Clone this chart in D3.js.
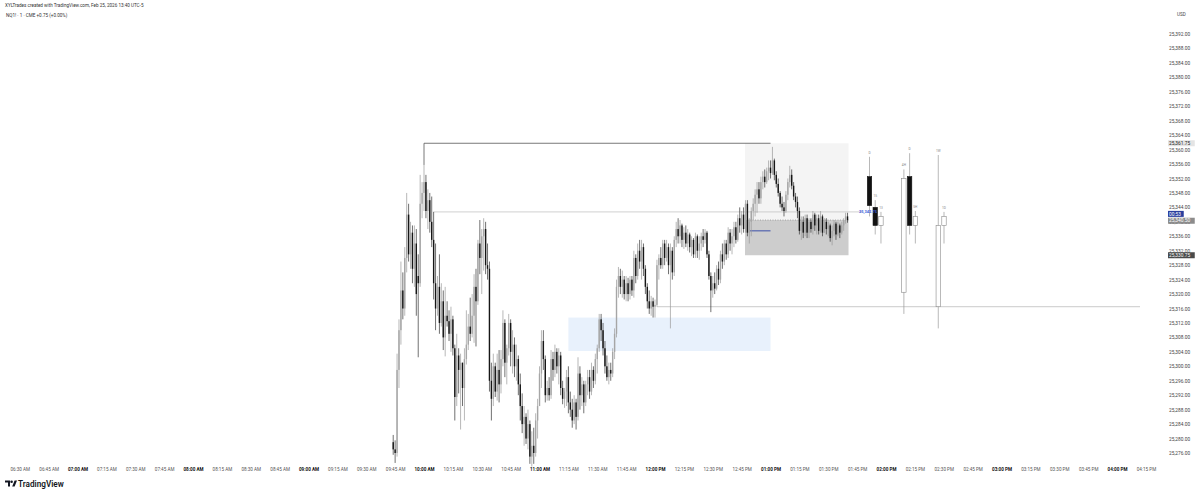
<!DOCTYPE html>
<html><head><meta charset="utf-8">
<script src="https://cdn.jsdelivr.net/npm/d3@7"></script>
<style>
body{margin:0;background:#fff;}
svg{display:block;font-family:Roboto,"Open Sans",Arial,sans-serif;}
</style>
</head><body>
<svg id="chart" width="1200" height="495"></svg>
<script>
// ---------------- DATA ----------------
const headerTitle = "XYLTrades created with TradingView.com, Feb 25, 2026 13:40 UTC-5";
const symbolLine = "NQ1! · 1 · CME";
const changeText = "+0.75 (+0.00%)";
const xTickLabels = ["06:30 AM","06:45 AM","07:00 AM","07:15 AM","07:30 AM","07:45 AM","08:00 AM","08:15 AM","08:30 AM","08:45 AM","09:00 AM","09:15 AM","09:30 AM","09:45 AM","10:00 AM","10:15 AM","10:30 AM","10:45 AM","11:00 AM","11:15 AM","11:30 AM","11:45 AM","12:00 PM","12:15 PM","12:30 PM","12:45 PM","01:00 PM","01:15 PM","01:30 PM","01:45 PM","02:00 PM","02:15 PM","02:30 PM","02:45 PM","03:00 PM","03:15 PM","03:30 PM","03:45 PM","04:00 PM","04:15 PM"];
const yTickValues = [25276,25280,25284,25288,25292,25296,25300,25304,25308,25312,25316,25320,25324,25328,25332,25336,25340,25344,25348,25352,25356,25360,25364,25368,25372,25376,25380,25384,25388,25392];
const firstCandleTime = "09:44 AM";
// one-minute candles [open, high, low, close]
const candles0944 = [
[25279,25281,25275.5,25277],[25277,25279.5,25273.25,25276],[25276,25303.5,25275,25299],[25299,25313,25294,25310],
[25310,25329,25306,25321],[25321,25326,25313,25316],[25316,25333,25314,25330],[25330,25348,25326,25342],
[25342,25345,25329,25331],[25331,25340,25327,25337],[25337,25339,25323,25327],[25327,25339,25322,25334],
[25334,25338,25314,25320],[25325,25331,25302.5,25323],[25323,25353,25322,25345],[25345,25351,25341,25348]];
const candles1000 = [
[25348,25355.75,25343,25351],[25351,25353,25341,25343],[25343,25349,25338,25346],[25346,25348,25337,25340],
[25340,25347,25333,25335],[25335,25342.75,25318.5,25323],[25323,25334,25310,25316],[25316,25325,25314,25322],
[25322,25331,25309,25312],[25312,25323,25311,25318],[25318,25321,25304.5,25308],[25308,25322,25302.75,25314],
[25314,25318,25311,25312.5],[25312.5,25315.5,25307,25309],[25309,25316.5,25304,25313],[25313,25314,25303,25305],
[25305,25306,25285,25291.5],[25291.5,25309,25289,25303],[25303,25305,25292.5,25299],[25299,25303.5,25282.5,25301],
[25301,25301,25289,25294],[25294,25305,25285,25302],[25302,25315.5,25300.5,25306],[25306,25314.5,25304.5,25311],
[25311,25319,25307,25309],[25309,25320,25308,25314],[25314,25325.5,25306.5,25322],[25322,25327,25305.5,25318],
[25318,25335,25317,25334],[25334,25340.5,25325.5,25330],[25330,25338,25320,25336],[25336,25341,25326.5,25338],
[25338,25340,25325.5,25328],[25328,25334,25324,25327],[25327,25329,25293,25296],[25296,25301,25285,25291],
[25291,25303.5,25289,25300],[25300,25301,25291.5,25293],[25293,25303.5,25290.5,25299],[25299,25304.5,25290,25295],
[25295,25304.5,25292.5,25302],[25302,25315.5,25300,25312],[25312,25313,25297,25301],[25301,25306,25295,25305],
[25305,25314.5,25303,25312],[25312,25313,25300,25304],[25304,25310,25298,25306],[25306,25308,25297,25300],
[25300,25306,25296,25302],[25302,25303,25292,25295],[25295,25298,25285,25289],[25289,25292.5,25281.5,25284],
[25284,25289,25278,25286],[25286,25287,25278.5,25280],[25280,25288,25277,25284],[25284,25285,25273,25275],
[25275,25282,25272.25,25278],[25278,25283,25273,25276],[25276,25287,25275,25285],[25285,25291,25280,25289]];
const candles1100 = [
[25289,25300,25289,25298],[25298,25310,25294,25307],[25307,25310,25299,25302],[25302,25303,25290,25292],
[25292,25296,25290.5,25294],[25294,25297,25290.5,25292],[25292,25304.5,25291,25302],[25302,25304,25296,25299],
[25299,25306,25297,25304],[25304,25305,25298,25300],[25300,25305,25295,25303],[25303,25304,25292,25294],
[25294,25296,25289.5,25291],[25291,25294,25288.5,25293],[25293,25299,25289,25297],[25297,25300,25287,25290],
[25290,25293,25286,25288],[25288,25291,25283,25285],[25285,25292,25284,25290],[25290,25291,25282.5,25286],
[25286,25302.5,25285,25298],[25298,25300,25288,25292],[25292,25297,25289,25295],[25295,25296,25287,25290],
[25290,25296,25289,25295],[25295,25299,25292,25297],[25297,25299,25291,25293],[25293,25301,25292,25299],
[25299,25300,25294,25296],[25296,25303.5,25295,25302],[25302,25306,25298,25305],[25305,25314.5,25304,25313],
[25313,25314.5,25307,25310],[25310,25312,25303,25305],[25305,25307,25298,25300],[25300,25303,25296,25297],
[25297,25301,25295,25299],[25299,25301,25296,25298],[25298,25305,25297,25304],[25304,25310.5,25302,25309],
[25309,25324,25308,25322],[25322,25327.5,25319,25325],[25325,25327,25320,25322],[25322,25326.5,25319,25324],
[25324,25325,25318.5,25320],[25320,25325,25318,25323],[25323,25324.5,25318,25320],[25320,25325,25318.5,25324],
[25324,25325,25319.5,25321],[25321,25332,25319,25330],[25330,25331,25323,25325],[25325,25334,25324,25332],
[25332,25335,25327,25329],[25329,25335,25324,25333],[25333,25334,25325,25327],[25327,25328,25320,25322],
[25322,25323,25316,25318],[25318,25321,25314.5,25316],[25316,25319.5,25314,25318],[25318,25319,25313.5,25316.5]];
const candles1200 = [
[25316.5,25318.5,25313.5,25317],[25317,25329.5,25316.5,25328],[25328,25331,25324,25330],[25330,25333,25327,25328],
[25328,25335,25327,25334],[25334,25335,25328,25330],[25330,25335,25329,25333],[25333,25334,25325.5,25328],
[25328,25334,25310.5,25332],[25332,25333,25324,25326],[25326,25336,25325,25335],[25335,25340,25333,25338],
[25338,25341,25334,25336],[25336,25340.5,25334,25339],[25339,25339.5,25333,25335],[25335,25338.5,25332.5,25337],
[25337,25339,25333,25334],[25334,25338,25332,25336.5],[25336.5,25337,25331.5,25333],[25333,25336,25330.5,25335],
[25335,25335.5,25330,25331],[25331,25337,25330,25336],[25336,25336.5,25330,25332],[25332,25336,25329.5,25334],
[25334,25337,25332,25336],[25336,25338,25333,25335],[25335,25338,25334,25337],[25337,25337.5,25330,25331],
[25331,25332,25324,25325],[25325,25326,25315,25321],[25321,25325,25319,25323],[25323,25326,25320,25321.5],
[25321.5,25328,25321,25327],[25327,25329,25322.5,25324],[25324,25332,25323,25331],[25331,25334,25327,25329],
[25329,25335,25328,25334],[25334,25335,25329.5,25331],[25331,25338.5,25330,25337],[25337,25338,25332,25334],
[25334,25338,25331,25336],[25336,25340,25333,25338.5],[25338.5,25340,25334,25335],[25335,25342,25334.5,25341],
[25341,25344,25337,25339],[25339,25343,25336.5,25342],[25342,25344,25337,25338],[25338,25346,25337,25345],
[25345,25346,25336,25337],[25337,25341,25334,25340],[25340,25344,25336,25343],[25343,25346.5,25340.5,25345],
[25345,25349,25341.5,25347.5],[25347.5,25351,25342.5,25349],[25349,25351,25345,25346.5],[25346.5,25352.5,25345,25351],
[25351,25354,25349,25352.5],[25352.5,25354.5,25349.5,25351],[25351,25355,25350.5,25354],[25354,25357,25351.5,25355]];
const candles1300 = [
[25355,25357,25352,25353.5],[25353.5,25360.75,25353,25357],[25357,25357.5,25351.5,25353],[25353,25354,25349.5,25350.5],
[25350.5,25352,25347,25348],[25348,25348.5,25344,25345],[25345,25347,25343,25344],[25344,25345.5,25341.5,25343],
[25343,25348.5,25342.5,25347.5],[25347.5,25352,25346,25351],[25351,25355.5,25349.5,25353],[25353,25354.5,25349,25350],
[25350,25351,25346,25347],[25347,25348,25344,25345.5],[25345.5,25347,25341,25343],[25343,25344,25336.5,25337.5],
[25337.5,25341.5,25335,25340],[25340,25341.5,25335.5,25337],[25337,25342,25336,25341],[25341,25342,25335.5,25337],
[25337,25341,25335.5,25340],[25340,25341,25337,25338],[25338,25343,25336.5,25342],[25342,25342.5,25337.5,25339],
[25339,25342,25336.5,25341],[25341,25342,25336.5,25337.5],[25337.5,25343,25337,25341.5],[25341.5,25342,25336,25337],
[25337,25341,25337,25340],[25340,25341,25336.5,25338],[25338,25340,25336,25339],[25339,25339.5,25334.5,25335.5],
[25335.5,25339,25333.5,25337.5],[25337.5,25340.5,25336,25339.5],[25339.5,25340,25335,25336.5],[25336.5,25340,25336,25339],
[25339,25339.5,25335.5,25337],[25337,25340,25336.5,25339],[25339,25341,25337.5,25340.5],[25340.5,25342.5,25339.5,25341.5],
[25341.5,25342.5,25339.75,25340.5]];
// higher-timeframe candle panel at right [open, high, low, close]
const htfLabels = ["D","15","13","4H","D","5H","1W","1D"];
const htfCandles = [
[25352.5,25358,25341.5,25344.5],[25344,25346,25336.5,25339],[25339,25342.75,25334,25341.5],
[25320.5,25354.5,25314.5,25352],[25352.5,25359,25336.5,25339],[25339,25343,25334,25341.5],
[25316.5,25358.5,25310.5,25339],[25339,25342.75,25334,25341.5]];
const htfSlots = [0,1,2,6,7,8,12,13];
// drawing levels / zones
const highLevel = 25361.75;
const midLevel = 25342.75;
const sweepLevel = 25316.5;
const lastPrice = 25340.5;
const boxBottom = 25330.75;
const blueMark = 25337.5;
const fvgZone = [25304.25, 25313.5];
const axisTags = [
  {label:"25,361.75", price:25361.75, bg:"#e4e4e4", fg:"#222"},
  {label:"00:53", price:25342.2, bg:"#2a3f9e", fg:"#fff"},
  {label:"25,340.50", price:25340.3, bg:"#8c8c8c", fg:"#fff"},
  {label:"25,330.75", price:25330.75, bg:"#4a4a4a", fg:"#fff"}];

// ---------------- SCALES ----------------
const svg = d3.select("#chart");
const toMin = s => { const [hm, ap] = s.split(" "); let [h, m] = hm.split(":").map(Number); if (ap === "PM" && h !== 12) h += 12; if (ap === "AM" && h === 12) h = 0; return h*60+m; };
const x = d3.scaleLinear().domain([toMin("06:30 AM"), toMin("04:15 PM")]).range([19.75, 1145.9]);
const y = d3.scaleLinear().domain([25276, 25392]).range([453, 34]);

const t0 = toMin(firstCandleTime);
const candles = [].concat(candles0944, candles1000, candles1100, candles1200, candles1300)
  .map((d, i) => ({t: t0 + i, o: d[0], h: d[1], l: d[2], c: d[3]}));

// ---------------- ZONES ----------------
const g = svg.append("g");
g.append("rect").attr("x", x(toMin("11:15 AM"))).attr("width", x(toMin("01:00 PM")) - x(toMin("11:15 AM")))
  .attr("y", y(fvgZone[1])).attr("height", y(fvgZone[0]) - y(fvgZone[1])).attr("fill", "#e8f1fc");
const bx0 = x(toMin("12:47 PM")) - 0.5, bx1 = x(toMin("01:40 PM")) + 1;
g.append("rect").attr("x", bx0).attr("width", bx1 - bx0).attr("y", y(highLevel)).attr("height", y(lastPrice) - y(highLevel)).attr("fill", "#f4f4f4");
g.append("rect").attr("x", bx0).attr("width", bx1 - bx0).attr("y", y(lastPrice)).attr("height", y(boxBottom) - y(lastPrice)).attr("fill", "#cdcdcd");

g.append("path").attr("d", `M${x(toMin("10:00 AM"))},${y(25355.75)}V${y(highLevel)}H${x(toMin("01:00 PM"))}`)
  .attr("fill", "none").attr("stroke", "#555").attr("stroke-width", 0.8);
g.append("line").attr("x1", x(toMin("10:05 AM"))).attr("x2", 862).attr("y1", y(midLevel)).attr("y2", y(midLevel))
  .attr("stroke", "#c4c4c4").attr("stroke-width", 0.8);
g.append("line").attr("x1", x(toMin("12:01 PM"))).attr("x2", 1140).attr("y1", y(sweepLevel)).attr("y2", y(sweepLevel))
  .attr("stroke", "#bdbdbd").attr("stroke-width", 0.8);
g.append("line").attr("x1", bx0).attr("x2", bx1).attr("y1", y(lastPrice)).attr("y2", y(lastPrice))
  .attr("stroke", "#888").attr("stroke-width", 0.7).attr("stroke-dasharray", "1,1.5");
g.append("line").attr("x1", x(toMin("12:49 PM"))).attr("x2", x(toMin("01:00 PM"))).attr("y1", y(blueMark)).attr("y2", y(blueMark))
  .attr("stroke", "#3b4fa8").attr("stroke-width", 1);

// ---------------- CANDLES ----------------
const cg = svg.append("g");
const up = d => d.c >= d.o;
cg.selectAll("line.w").data(candles).join("line")
  .attr("x1", d => x(d.t)).attr("x2", d => x(d.t))
  .attr("y1", d => y(d.h)).attr("y2", d => y(d.l))
  .attr("stroke", d => up(d) ? "#999" : "#333").attr("stroke-width", 0.7);
cg.selectAll("rect.b").data(candles).join("rect")
  .attr("x", d => x(d.t) - 0.7).attr("width", 1.4)
  .attr("y", d => y(Math.max(d.o, d.c)))
  .attr("height", d => Math.max(0.5, Math.abs(y(d.o) - y(d.c))))
  .attr("fill", d => up(d) ? "#a6a6a6" : "#161616");

// ---------------- HTF PANEL ----------------
const hx = d3.scaleLinear().domain([0, 13]).range([869.5, 944]);
const hg = svg.append("g");
const htf = htfCandles.map((d, i) => ({slot: htfSlots[i], o: d[0], h: d[1], l: d[2], c: d[3], lab: htfLabels[i]}));
hg.selectAll("line").data(htf).join("line")
  .attr("x1", d => hx(d.slot)).attr("x2", d => hx(d.slot)).attr("y1", d => y(d.h)).attr("y2", d => y(d.l))
  .attr("stroke", "#9a9a9a").attr("stroke-width", 0.7);
hg.selectAll("rect").data(htf).join("rect")
  .attr("x", d => hx(d.slot) - 2.2).attr("width", 4.4)
  .attr("y", d => y(Math.max(d.o, d.c))).attr("height", d => Math.abs(y(d.o) - y(d.c)))
  .attr("fill", d => d.c >= d.o ? "#fff" : "#111").attr("stroke", d => d.c >= d.o ? "#8a8a8a" : "#111").attr("stroke-width", 0.6);
hg.selectAll("text").data(htf).join("text")
  .attr("x", d => hx(d.slot)).attr("y", d => y(d.h) - 3)
  .attr("text-anchor", "middle").attr("font-size", 3.2).attr("fill", "#888").text(d => d.lab);
svg.append("text").attr("x", 868).attr("y", y(midLevel) + 1.5).attr("text-anchor", "middle")
  .attr("font-size", 4).attr("fill", "#3d5bd9").attr("font-weight", 700).text(d3.format(",.2f")(midLevel));

// ---------------- AXES ----------------
const xa = svg.append("g").attr("transform", "translate(0,465)")
  .call(d3.axisBottom(x).tickValues(xTickLabels.map(toMin)).tickSize(0).tickFormat((d, i) => xTickLabels[i]));
xa.select(".domain").remove();
xa.selectAll("text").attr("font-size", 4.6).attr("font-family", "Roboto, sans-serif")
  .attr("fill", (d) => d % 60 === 0 ? "#111" : "#555").attr("font-weight", d => d % 60 === 0 ? 700 : 400);

const ya = svg.append("g").attr("transform", "translate(1169,0)")
  .call(d3.axisRight(y).tickValues(yTickValues).tickSize(0).tickFormat(d3.format(",.2f")));
ya.select(".domain").remove();
ya.selectAll("text").attr("x", 0).attr("font-size", 4.8).attr("fill", "#444").attr("font-family", "Roboto, sans-serif");

svg.append("text").attr("x", 1177).attr("y", 16).attr("font-size", 4.6).attr("fill", "#444").text("USD");

const tg = svg.selectAll("g.tag").data(axisTags).join("g").attr("transform", d => `translate(1168,${y(d.price)})`);
tg.append("rect").attr("x", 0).attr("y", -3).attr("width", d => d.label.length * 2.75 + 2).attr("height", 6).attr("fill", d => d.bg);
tg.append("text").attr("x", 1).attr("y", 1.7).attr("font-size", 4.8).attr("fill", d => d.fg).text(d => d.label);

// ---------------- HEADER / FOOTER ----------------
svg.append("text").attr("x", 5).attr("y", 7).attr("font-size", 4.6).attr("fill", "#333").text(headerTitle);
const sl = svg.append("text").attr("x", 6).attr("y", 17).attr("font-size", 4.6).attr("fill", "#333");
sl.append("tspan").text(symbolLine + "  ");
sl.append("tspan").attr("fill", "#333").text(changeText);

const logo = svg.append("g").attr("transform", "translate(5,480.5)");
logo.append("path").attr("d", "M0,0H5V6H3V2H0Z").attr("fill", "#131722");
logo.append("circle").attr("cx", 6.6).attr("cy", 1.3).attr("r", 1.3).attr("fill", "#131722");
logo.append("path").attr("d", "M7.2,6L9.6,0H12L9.6,6Z").attr("fill", "#131722");
svg.append("text").attr("x", 18).attr("y", 486.5).attr("font-size", 8.2).attr("font-weight", 600).attr("fill", "#131722").text("TradingView");
</script>
</body></html>
